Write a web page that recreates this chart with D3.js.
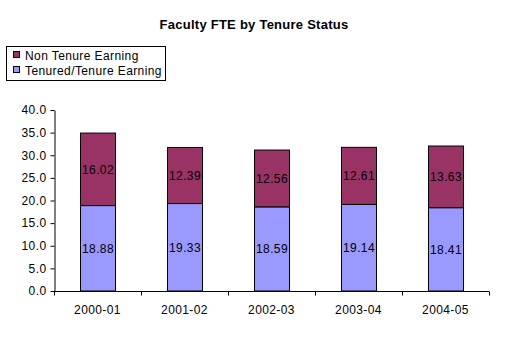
<!DOCTYPE html>
<html><head><meta charset="utf-8">
<script src="https://cdn.jsdelivr.net/npm/d3@7"></script>
<style>
html,body{margin:0;padding:0;background:#fff;}
svg text{font-family:"Liberation Sans",Arial,sans-serif;}
</style></head>
<body>
<svg id="chart" width="509" height="338"></svg>
<script>
const categories = ["2000-01","2001-02","2002-03","2003-04","2004-05"];
const tenured = [18.88,19.33,18.59,19.14,18.41];
const nonTenure = [16.02,12.39,12.56,12.61,13.63];
const yTicks = [0,5,10,15,20,25,30,35,40];
const seriesNames = ["Non Tenure Earning","Tenured/Tenure Earning"];
const colors = {tenured:"#9999FF", nonTenure:"#993366"};

(function(){
const svg = d3.select("#chart");
const pLeft = 54, pRight = 489, pTop = 110, pBottom = 291;
const ls = 0.4;

const x = d3.scaleBand().domain(categories).range([pLeft,pRight]).paddingInner(0.6).paddingOuter(0.3);
const xOuter = d3.scaleBand().domain(categories).range([pLeft,pRight]);
const y = d3.scaleLinear().domain([0,40]).range([pBottom,pTop]);

// title
svg.append("text").attr("x",254).attr("y",29).attr("text-anchor","middle")
  .attr("font-size",13).attr("font-weight","bold").attr("letter-spacing",0.25)
  .text("Faculty FTE by Tenure Status");

// legend
const lg = svg.append("g");
lg.append("rect").attr("x",6.5).attr("y",46.5).attr("width",159).attr("height",34)
  .attr("fill","#fff").attr("stroke","#000");
const legendItems = [{name:seriesNames[0],color:colors.nonTenure},{name:seriesNames[1],color:colors.tenured}];
legendItems.forEach((d,i)=>{
  const cy = 55 + i*15;
  lg.append("rect").attr("x",13.5).attr("y",cy-3.5).attr("width",6).attr("height",6)
    .attr("fill",d.color).attr("stroke","#000");
  lg.append("text").attr("x",25).attr("y",cy+4.5).attr("font-size",12).attr("letter-spacing",ls).text(d.name);
});

// y axis
const yAxis = d3.axisLeft(y).tickValues(yTicks).tickFormat(d3.format(".1f")).tickSize(4).tickSizeOuter(0);
const ya = svg.append("g").attr("transform",`translate(${pLeft+0.5},0)`).call(yAxis);
ya.selectAll("text").attr("font-size",12).attr("fill","#000").attr("x",-8).attr("letter-spacing",ls)
  .attr("font-family","Liberation Sans, Arial, sans-serif");
ya.selectAll("line,path").attr("stroke","#000");

// x axis
const xa = svg.append("g").attr("transform",`translate(0,${pBottom+0.5})`);
xa.append("line").attr("x1",pLeft).attr("x2",pRight).attr("stroke","#000");
const xTickPos = categories.map(c=>xOuter(c)).concat([pRight]);
xa.selectAll("line.tk").data(xTickPos).join("line").attr("class","tk")
  .attr("x1",d=>Math.round(d)+0.5).attr("x2",d=>Math.round(d)+0.5).attr("y1",0).attr("y2",4).attr("stroke","#000");
xa.selectAll("text").data(categories).join("text")
  .attr("x",d=>xOuter(d)+xOuter.bandwidth()/2).attr("y",22).attr("text-anchor","middle")
  .attr("font-size",12).attr("letter-spacing",ls).text(d=>d);

// bars
const g = svg.append("g");
categories.forEach((c,i)=>{
  const x0 = Math.round(x(c))+0.5, w = Math.round(x.bandwidth());
  const t = tenured[i], n = nonTenure[i];
  g.append("rect").attr("x",x0).attr("y",y(t)).attr("width",w).attr("height",y(0)-y(t))
    .attr("fill",colors.tenured).attr("stroke","#000");
  g.append("rect").attr("x",x0).attr("y",y(t+n)).attr("width",w).attr("height",y(t)-y(t+n))
    .attr("fill",colors.nonTenure).attr("stroke","#000");
  g.append("text").attr("x",x0+w/2).attr("y",y(t/2)+4.5).attr("text-anchor","middle")
    .attr("font-size",12).attr("letter-spacing",ls).text(t.toFixed(2));
  g.append("text").attr("x",x0+w/2).attr("y",y(t+n/2)+4.5).attr("text-anchor","middle")
    .attr("font-size",12).attr("letter-spacing",ls).text(n.toFixed(2));
});
})();
</script>
</body></html>
